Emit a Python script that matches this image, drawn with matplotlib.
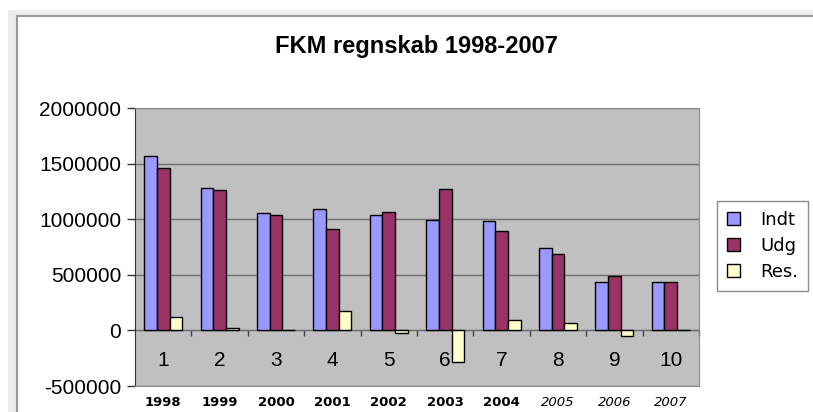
import matplotlib.pyplot as plt
import matplotlib.transforms as mtransforms
from matplotlib.patches import Rectangle

# data
categories = [1, 2, 3, 4, 5, 6, 7, 8, 9, 10]
years = ['1998', '1999', '2000', '2001', '2002', '2003', '2004', '2005', '2006', '2007']
indt = [1570000, 1284000, 1053000, 1092000, 1041000, 993000, 984000, 738000, 438000, 438000]
udg = [1461000, 1263000, 1041000, 915000, 1065000, 1272000, 897000, 684000, 489000, 438000]
res = [117000, 21000, 8000, 177000, -24000, -285000, 93000, 63000, -54000, 3000]

series_names = ['Indt', 'Udg', 'Res.']
colors = ['#9999FF', '#993366', '#FFFFCC']

plt.rcParams['font.family'] = ['Liberation Sans', 'DejaVu Sans']

fig = plt.figure(figsize=(8.13, 4.12), dpi=100)
W, H = 813, 412

# chart frame (excel style)
fig.patches.append(Rectangle((8 / W, -0.5), 2, 1.5 - 10 / H, transform=fig.transFigure,
                             facecolor='#ececec', edgecolor='none', zorder=-5))
fig.patches.append(Rectangle((17 / W, -0.5), 2, 1.5 - 16 / H, transform=fig.transFigure,
                             facecolor='white', edgecolor='#999999', linewidth=1.5, zorder=-4))

ax = fig.add_axes([135 / W, 26 / H, 564 / W, 278 / H])
ax.set_facecolor('#C0C0C0')

width = 0.225
for k, vals in enumerate([indt, udg, res]):
    xs = [c + (k - 1) * width for c in categories]
    ax.bar(xs, vals, width=width, color=colors[k], edgecolor='black', linewidth=1,
           label=series_names[k], zorder=3)

ax.set_xlim(0.5, 10.5)
ax.set_ylim(-500000, 2000000)
ax.set_yticks(range(-500000, 2000001, 500000))
ax.set_yticklabels([str(v) for v in range(-500000, 2000001, 500000)], fontsize=15)
ax.yaxis.grid(True, color='#6e6e6e', linewidth=1)
ax.set_axisbelow(True)
ax.tick_params(axis='y', direction='out', length=6, width=1, color='#333333', pad=4)

for side in ['top', 'right', 'bottom']:
    ax.spines[side].set_color('#8c8c8c')
ax.spines['left'].set_color('#333333')

# category axis at zero
ax.set_xticks([])
sec = ax.secondary_xaxis(0.2)
sec.set_xticks([c + 0.5 for c in categories[:-1]] + [10.5])
sec.set_xticklabels([])
sec.tick_params(direction='out', length=4, width=1, color='#444444')
sec.spines['bottom'].set_color('#333333')
sec.spines['bottom'].set_zorder(4)

# category labels under the zero line (behind bars)
lab_tr = mtransforms.offset_copy(ax.transData, fig=fig, x=0, y=-30, units='dots')
for c in categories:
    ax.text(c, 0, str(c), transform=lab_tr, ha='center', va='center', fontsize=15, zorder=1)

# year labels below the plot area
yr_tr = mtransforms.offset_copy(ax.get_xaxis_transform(), fig=fig, x=0, y=-17, units='dots')
for c, yr in zip(categories, years):
    if int(yr) <= 2004:
        ax.text(c, 0, yr, transform=yr_tr, ha='center', va='center', fontsize=9.5,
                family='DejaVu Sans', fontweight='bold', clip_on=False)
    else:
        ax.text(c, 0, yr, transform=yr_tr, ha='center', va='center', fontsize=9.5,
                family='DejaVu Sans', style='italic', clip_on=False)

fig.text(416 / W, 1 - 46 / H, 'FKM regnskab 1998-2007', ha='center', va='center',
         fontsize=17, fontweight='bold', family=['Liberation Sans Narrow', 'Liberation Sans'])

leg = ax.legend(loc='center left', bbox_to_anchor=(717 / W, 1 - 246 / H), bbox_transform=fig.transFigure,
                prop={'family': 'DejaVu Sans', 'size': 13}, fancybox=False, framealpha=1,
                edgecolor='#8c8c8c', handlelength=0.75, handleheight=0.75, handletextpad=1.1,
                labelspacing=0.45, borderpad=0.55, borderaxespad=0)
leg.get_frame().set_linewidth(1)

plt.savefig('out.png', dpi=100)
